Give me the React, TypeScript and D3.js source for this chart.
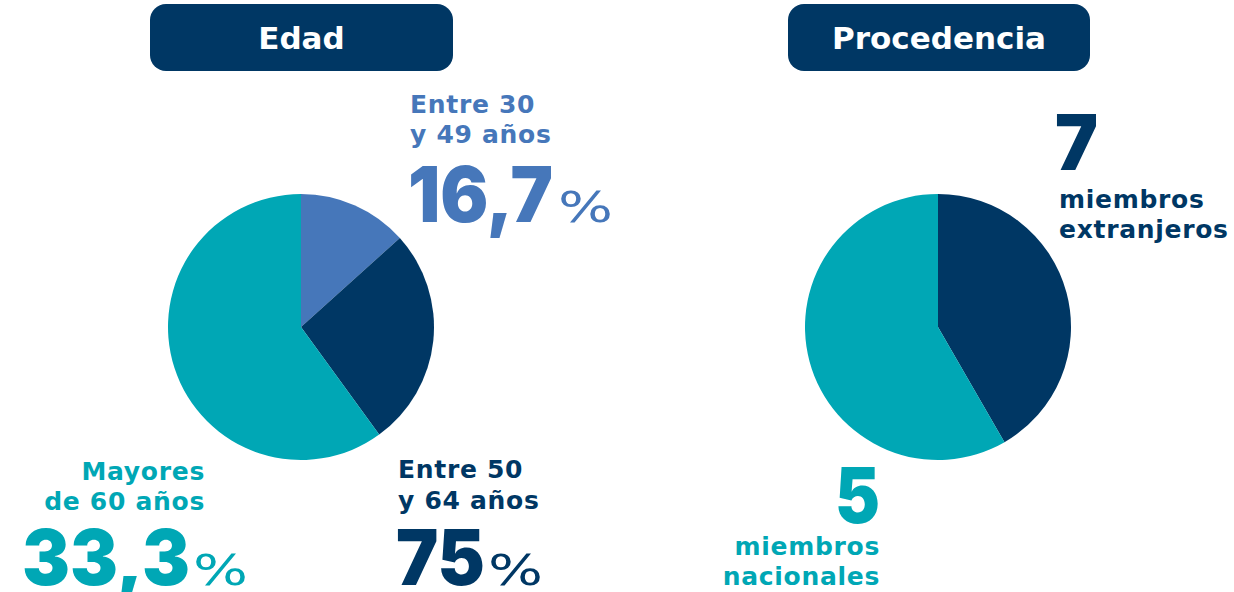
import React from "react";
import * as d3 from "d3";

const NAVY = "#003764";
const TEAL = "#00A7B5";
const LIGHT = "#4677BA";

const edadCategories = ["Entre 30 y 49 años", "Entre 50 y 64 años", "Mayores de 60 años"];
const edadValues = [2, 4, 9];
const edadColors = [LIGHT, NAVY, TEAL];

const procCategories = ["Extranjeros", "Nacionales"];
const procValues = [5, 7];
const procColors = [NAVY, TEAL];

const FONT = "'DejaVu Sans', 'Open Sans', sans-serif";
const BIGFONT = "Inter, 'Open Sans', sans-serif";

function Pie({ cx, cy, r, values, colors }: { cx: number; cy: number; r: number; values: number[]; colors: string[] }) {
  const pie = d3.pie<number>().sort(null).value((d) => d);
  const arc = d3.arc<d3.PieArcDatum<number>>().innerRadius(0).outerRadius(r);
  return (
    <g transform={`translate(${cx},${cy})`}>
      {pie(values).map((a, i) => (
        <path key={i} d={arc(a) || ""} fill={colors[i]} />
      ))}
    </g>
  );
}

function Header({ x, y, w, h, text }: { x: number; y: number; w: number; h: number; text: string }) {
  return (
    <g>
      <rect x={x} y={y} width={w} height={h} rx={16} fill={NAVY} />
      <text x={x + w / 2} y={y + h / 2 + 11} textAnchor="middle" fill="#fff" fontSize={31} fontWeight={700} fontFamily={FONT}>
        {text}
      </text>
    </g>
  );
}

function Big({ x, y, num, w, pctX, color }: { x: number; y: number; num: string; w: number; pctX?: number; color: string }) {
  return (
    <g fill={color}>
      <text x={x} y={y} fontFamily={BIGFONT} fontSize={77} fontWeight={900} textLength={w} lengthAdjust="spacingAndGlyphs">
        {num}
      </text>
      {pctX !== undefined ? (
        <text x={pctX} y={y} fontFamily={FONT} fontSize={43} fontWeight={400} textLength={55} lengthAdjust="spacingAndGlyphs">
          %
        </text>
      ) : null}
    </g>
  );
}

export default function App() {
  const lbl = { fontFamily: FONT, fontSize: 25, fontWeight: 700, letterSpacing: 0.7 } as const;
  return (
    <svg width={1234} height={592} style={{ position: "absolute", left: 0, top: 0 }}>
      <rect width={1234} height={592} fill="#fff" />
      <Header x={150} y={4} w={303} h={67} text="Edad" />
      <Header x={788} y={4} w={302} h={67} text="Procedencia" />

      <Pie cx={301} cy={327} r={133} values={edadValues} colors={edadColors} />
      <Pie cx={938} cy={327} r={133} values={procValues} colors={procColors} />

      {/* Edad labels */}
      <text x={410} y={113} fill={LIGHT} {...lbl}>Entre 30</text>
      <text x={410} y={143} fill={LIGHT} {...lbl}>y 49 años</text>
      <Big x={408} y={222} num="16,7" w={145} pctX={558} color={LIGHT} />

      <text x={205} y={480} fill={TEAL} textAnchor="end" {...lbl}>Mayores</text>
      <text x={205} y={510} fill={TEAL} textAnchor="end" {...lbl}>de 60 años</text>
      <Big x={22} y={585} num="33,3" w={168} pctX={193} color={TEAL} />

      <text x={398} y={478} fill={NAVY} {...lbl}>Entre 50</text>
      <text x={398} y={509} fill={NAVY} {...lbl}>y 64 años</text>
      <Big x={396} y={585} num="75" w={89} pctX={488} color={NAVY} />

      {/* Procedencia labels */}
      <Big x={1055} y={170} num="7" w={43} color={NAVY} />
      <text x={1059} y={208} fill={NAVY} {...lbl}>miembros</text>
      <text x={1059} y={238} fill={NAVY} {...lbl}>extranjeros</text>

      <Big x={835} y={523} num="5" w={45} color={TEAL} />
      <text x={880} y={555} fill={TEAL} textAnchor="end" {...lbl}>miembros</text>
      <text x={880} y={585} fill={TEAL} textAnchor="end" {...lbl}>nacionales</text>
    </svg>
  );
}
